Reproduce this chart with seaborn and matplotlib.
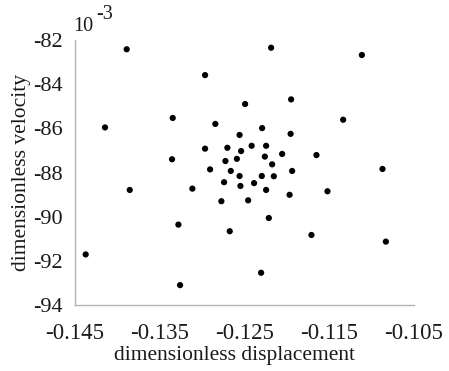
import matplotlib
matplotlib.use("Agg")
import matplotlib.pyplot as plt
import seaborn as sns
import pandas as pd
from matplotlib.ticker import MultipleLocator, FixedLocator

# Phase-plane samples: displacement and velocity (velocity in units of 1e-3)
displacement = [
    -0.13890, -0.12186, -0.11115, -0.12965, -0.12493, -0.11950, -0.13347, -0.12844,
    -0.11336, -0.14146, -0.12292, -0.12558, -0.11956, -0.12965, -0.12702, -0.12416,
    -0.12245, -0.12540, -0.12056, -0.11651, -0.13355, -0.12725, -0.12590, -0.12260,
    -0.12174, -0.10872, -0.12906, -0.12662, -0.11938, -0.12558, -0.12296, -0.12154,
    -0.12741, -0.12387, -0.13854, -0.13115, -0.12548, -0.12245, -0.11968, -0.11521,
    -0.12773, -0.12457, -0.12213, -0.13280, -0.12674, -0.11710, -0.10832, -0.14374,
    -0.13260, -0.12304,
]
velocity_e3 = [
    -82.42, -82.35, -82.68, -83.59, -84.90, -84.69, -85.53, -85.80,
    -85.61, -85.96, -85.99, -86.30, -86.25, -86.92, -86.88, -86.79,
    -86.79, -87.03, -87.16, -87.21, -87.40, -87.48, -87.38, -87.28,
    -87.63, -87.84, -87.86, -87.93, -87.93, -88.16, -88.16, -88.17,
    -88.44, -88.48, -88.79, -88.73, -88.61, -88.79, -89.01, -88.85,
    -89.30, -89.26, -90.06, -90.36, -90.66, -90.83, -91.13, -91.71,
    -93.10, -92.54,
]
x_ticks = [-0.145, -0.135, -0.125, -0.115, -0.105]
x_tick_labels = ["-0.145", "-0.135", "-0.125", "-0.115", "-0.105"]
y_ticks = [-94, -92, -90, -88, -86, -84, -82]

sns.set_style("white")
plt.rcParams["font.family"] = ["Liberation Serif", "DejaVu Serif"]
plt.rcParams["axes.unicode_minus"] = False

df = pd.DataFrame({"displacement": displacement, "velocity": velocity_e3})

fig = plt.figure(figsize=(4.49, 3.71), dpi=100)
ax = fig.add_axes([75 / 449, 1 - 305 / 371, (414 - 75) / 449, (305 - 40) / 371])

sns.scatterplot(data=df, x="displacement", y="velocity", ax=ax,
                color="black", s=20, edgecolor="none", linewidth=0)

ax.set_xlim(-0.145, -0.105)
ax.set_ylim(-94, -82)

ax.xaxis.set_major_locator(FixedLocator(x_ticks))
ax.set_xticklabels(x_tick_labels)
ax.xaxis.set_minor_locator(MultipleLocator(0.005))
ax.set_yticks(y_ticks)
ax.set_yticklabels([str(v) for v in y_ticks])

axis_grey = "#b4b4b4"
for side in ("top", "right"):
    ax.spines[side].set_visible(False)
for side in ("left", "bottom"):
    ax.spines[side].set_color(axis_grey)
    ax.spines[side].set_linewidth(1.0)

ax.tick_params(axis="both", which="both", direction="in", color=axis_grey,
               length=3, width=0.8, labelcolor="#1a1a1a")
ax.tick_params(axis="x", which="major", pad=13, labelsize=16.5)
ax.tick_params(axis="y", which="major", pad=9, labelsize=16)

ax.set_xlabel("dimensionless displacement", fontsize=15.5, color="#1a1a1a")
ax.set_ylabel("dimensionless velocity", fontsize=15.5, color="#1a1a1a")
ax.xaxis.set_label_coords(0.47, -0.155)
ax.yaxis.set_label_coords(-0.13, 0.5)

# Exponent marker for the velocity axis
ax.text(-0.14525, -81.60, "10", fontsize=14.5, color="#1a1a1a", ha="left", va="baseline",
        clip_on=False)
ax.text(-0.14245, -81.05, "-3", fontsize=14.5, color="#1a1a1a", ha="left", va="baseline",
        clip_on=False)

fig.savefig("out.png", dpi=100)
